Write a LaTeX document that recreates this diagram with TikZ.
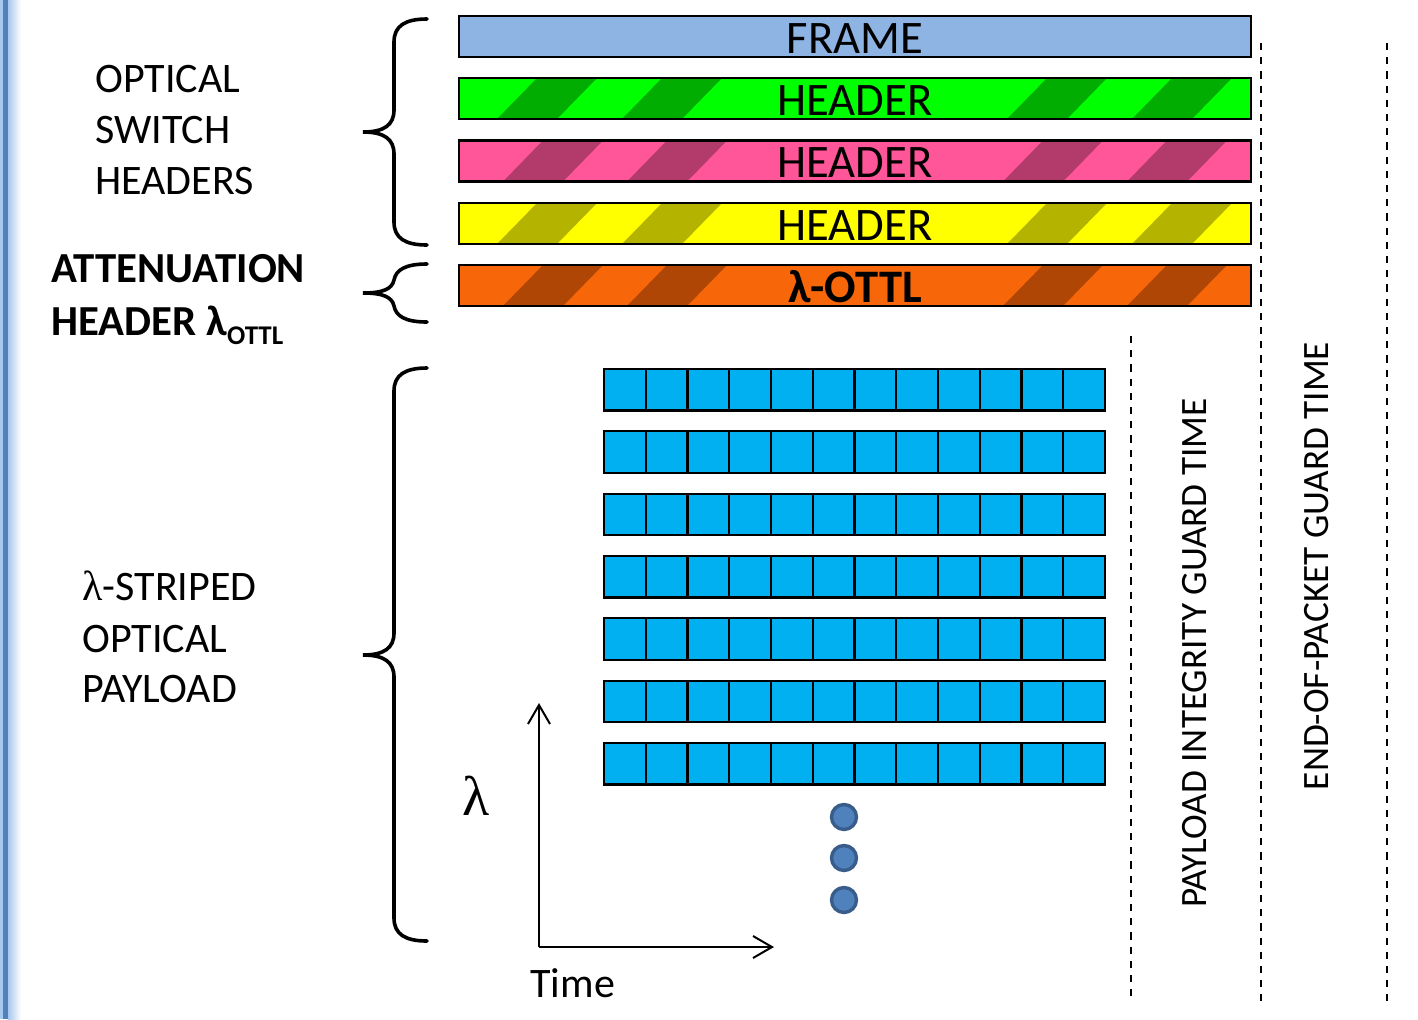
\documentclass[tikz,border=0pt]{standalone}
\usepackage{fontspec}
\setmainfont{Carlito}
\newfontfamily\grserif{Liberation Serif}
\usetikzlibrary{arrows.meta}
\definecolor{framefill}{HTML}{8EB4E3}
\definecolor{grn}{HTML}{00FF00}
\definecolor{grndark}{HTML}{00AD00}
\definecolor{pnk}{HTML}{FF5599}
\definecolor{pnkdark}{HTML}{B33B6B}
\definecolor{ylw}{HTML}{FFFF00}
\definecolor{ylwdark}{HTML}{B4B400}
\definecolor{org}{HTML}{F76608}
\definecolor{orgdark}{HTML}{B04606}
\definecolor{cellblue}{HTML}{00B0F0}
\definecolor{dotfill}{HTML}{4F81BD}
\definecolor{dotline}{HTML}{385D8A}
\definecolor{sidelight}{HTML}{A9C8EE}
\definecolor{sidedark}{HTML}{4F81BD}
\newcommand\hdrbar[6]{%
  \begin{scope}
    \clip (459,#1) rectangle (1251,#1+41);
    \fill[#2] (459,#1) rectangle (1251,#1+41);
    \foreach \s in {#4} \fill[#3] (\s,#1+41) -- (\s+60,#1+41) -- (\s+100,#1) -- (\s+40,#1) -- cycle;
  \end{scope}
  \draw[barline] (459,#1) rectangle (1251,#1+41);
  \node[bartext, anchor=base] (#6) at (855,#1+37) {#5};
}
\begin{document}
\begin{tikzpicture}[x=0.5pt,y=-0.5pt,
  barline/.style={draw=black, line width=1.15pt},
  bartext/.style={font=\fontsize{23.3}{23.3}\selectfont, inner sep=0pt},
  lbl/.style={font=\fontsize{21}{21}\selectfont, inner sep=0pt, anchor=base west},
  boldlbl/.style={font=\fontsize{21.4}{21.4}\selectfont\bfseries, inner sep=0pt, anchor=base west},
  vlbl/.style={font=\fontsize{18.6}{18.6}\selectfont, inner sep=0pt, rotate=90, anchor=base},
  brace/.style={line width=1.8pt, line cap=round},
  cellline/.style={draw=black, line width=1.1pt},
  guard/.style={line width=1pt, dash pattern=on 3.6pt off 3.5pt},
  axis/.style={line width=1pt, -{Straight Barb[length=9.5pt, width=11pt, line width=1pt]}},
  dot/.style={circle, fill=dotfill, draw=dotline, line width=1.7pt, minimum size=12.5pt, inner sep=0pt}
]
\useasboundingbox (0,0) rectangle (1418,1019);
% left side bar
\fill[sidelight] (0,0) rectangle (3,1019);
\fill[sidedark] (3,0) rectangle (8,1019);
\shade[left color=sidelight, right color=white] (8,0) rectangle (21,1019);

% header bars
\fill[framefill] (459,16) rectangle (1251,57);
\draw[barline] (459,16) rectangle (1251,57);
\node[bartext, anchor=base] (frame) at (855,53) {FRAME};
\hdrbar{78}{grn}{grndark}{497,622,1007,1132}{HEADER}{hgreen}
\hdrbar{140.5}{pnk}{pnkdark}{503,627,1003,1127}{HEADER}{hpink}
\hdrbar{203}{ylw}{ylwdark}{497,622,1007,1132}{HEADER}{hyellow}
\hdrbar{265}{org}{orgdark}{503,627,1003,1127}{\textbf{λ-OTTL}}{hottl}

% left labels
\node[lbl] (l1) at (95,92) {OPTICAL};
\node[lbl] (l2) at (95,143) {SWITCH};
\node[lbl] (l3) at (95,194) {HEADERS};
\node[boldlbl] (a1) at (51,282) {ATTENUATION};
\node[boldlbl] (a2) at (51,335) {HEADER λ\raisebox{-4.5pt}{\fontsize{13.5}{13.5}\selectfont OTTL}};
\node[lbl] (p1) at (82,600) {{\grserif λ}-STRIPED};
\node[lbl] (p2) at (82,652) {OPTICAL};
\node[lbl] (p3) at (82,702) {PAYLOAD};

% braces
\draw[brace] (427,19) .. controls (405,19) and (394,26) .. (394,42) -- (394,110)
  .. controls (394,125) and (384,132) .. (363,132)
  .. controls (384,132) and (394,139) .. (394,154) -- (394,222)
  .. controls (394,238) and (405,245) .. (427,245);
\draw[brace] (427,264) .. controls (405,264) and (396,270) .. (394,280)
  .. controls (392,289) and (383,293) .. (363,293)
  .. controls (383,293) and (392,297) .. (394,306)
  .. controls (396,316) and (405,322) .. (427,322);
\draw[brace] (427,368) .. controls (405,368) and (394,375) .. (394,391) -- (394,633)
  .. controls (394,648) and (384,655) .. (363,655)
  .. controls (384,655) and (394,662) .. (394,677) -- (394,918)
  .. controls (394,934) and (405,941) .. (427,941);

% payload cells
\foreach \r in {0,...,6} {
  \fill[cellblue] (604,369+\r*62.33) rectangle (1105,410.5+\r*62.33);
  \foreach \c in {1,...,11}
    \draw[cellline] (604+\c*41.75,369+\r*62.33) -- (604+\c*41.75,410.5+\r*62.33);
  \draw[cellline] (604,369+\r*62.33) rectangle (1105,410.5+\r*62.33);
}

% dots
\node[dot] (d1) at (844,817) {};
\node[dot] (d2) at (844,858) {};
\node[dot] (d3) at (844,900) {};

% axes
\coordinate (origin) at (539,947);
\coordinate (ytip) at (539,703);
\coordinate (xtip) at (774,947);
\draw[axis] (origin) -- (ytip);
\draw[axis] (origin) -- (xtip);
\node[inner sep=0pt, font=\fontsize{28}{28}\selectfont\grserif] (lam) at (476,796) {λ};
\node[lbl] (time) at (530,997) {Time};

% guard lines
\coordinate (g1t) at (1131,336); \coordinate (g1b) at (1131,1001);
\coordinate (g2t) at (1261,43);  \coordinate (g2b) at (1261,1001);
\coordinate (g3t) at (1387,43);  \coordinate (g3b) at (1387,1001);
\draw[guard] (g1t) -- (g1b);
\draw[guard] (g2t) -- (g2b);
\draw[guard] (g3t) -- (g3b);
\node[vlbl] (pig) at (1206,653) {PAYLOAD INTEGRITY GUARD TIME};
\node[vlbl] (eop) at (1328,566) {END-OF-PACKET GUARD TIME};
\end{tikzpicture}
\end{document}
